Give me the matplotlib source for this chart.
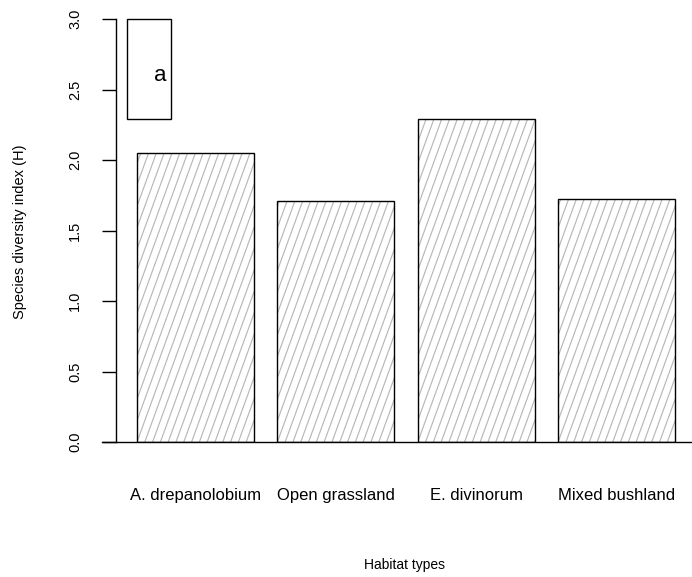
import numpy as np
import matplotlib
matplotlib.use("Agg")
import matplotlib.pyplot as plt
from matplotlib.patches import Rectangle

plt.rcParams['font.family'] = ['Liberation Sans', 'DejaVu Sans']

# data
habitats = ["A. drepanolobium", "Open grassland", "E. divinorum", "Mixed bushland"]
diversity = [2.05, 1.71, 2.29, 1.72]
yticks = [0.0, 0.5, 1.0, 1.5, 2.0, 2.5, 3.0]

W, H = 692, 577
fig = plt.figure(figsize=(W / 100, H / 100), dpi=100)

# plot region in pixels (R style layout)
left_px, right_px, top_px, bottom_px = 115.7, 692, 19, 442
ax = fig.add_axes([left_px / W, 1 - bottom_px / H,
                   (right_px - left_px) / W, (bottom_px - top_px) / H])

# barplot like R: width 1, space 0.2
width = 1.0
space = 0.2
lefts = np.array([space + i * (width + space) for i in range(len(diversity))])
centers = lefts + width / 2

ax.set_xlim(0.018, 4.944)
ax.set_ylim(0, 3.0)

bars = ax.bar(centers, diversity, width=width, color='white',
              edgecolor='black', linewidth=1.0, zorder=2)

# hatching lines (steep diagonal, grey), drawn in pixel space then mapped back
px_per_x = (right_px - left_px) / (4.944 - 0.018)
px_per_y = (bottom_px - top_px) / 3.0
angle = np.deg2rad(70)
step_px = 7.8
for b in bars:
    x0, y0 = b.get_x(), b.get_y()
    bw, bh = b.get_width(), b.get_height()
    hpx = bh * px_per_y
    shift = hpx / np.tan(angle)
    n0 = int(np.floor(-shift / step_px)) - 1
    n1 = int(np.ceil(bw * px_per_x / step_px)) + 1
    for k in range(n0, n1):
        xs_px = k * step_px
        xa = x0 + xs_px / px_per_x
        xb = x0 + (xs_px + shift) / px_per_x
        ln, = ax.plot([xa, xb], [y0, y0 + bh], color='#b8b8b8', lw=0.85, zorder=1.5)
        ln.set_clip_path(b)
    b.set_facecolor('none')
    b.set_zorder(3)

# axes styling
for s in ['top', 'right', 'bottom']:
    ax.spines[s].set_visible(False)
ax.spines['left'].set_linewidth(1.0)
ax.set_yticks(yticks)
ax.set_yticklabels([f"{v:.1f}" for v in yticks], rotation=90, va='center', fontsize=10.5)
ax.tick_params(axis='y', length=10, width=1.0, pad=14)
ax.set_xticks(centers)
ax.set_xticklabels(habitats, fontsize=12)
ax.tick_params(axis='x', length=0, pad=33)

# baseline extending past the plot region
ax.axhline(0, xmin=(102 - left_px) / (right_px - left_px), xmax=1,
           color='black', lw=1.0, clip_on=False, zorder=4)

# legend-like box with "a"
box = Rectangle((0.0196, 0.764), 0.0764, 0.236, transform=ax.transAxes,
                facecolor='white', edgecolor='black', lw=1.0, clip_on=False, zorder=5)
ax.add_patch(box)
ax.text(0.0777, 0.866, "a", transform=ax.transAxes, ha='center', va='center',
        fontsize=16, zorder=6)

# axis titles
fig.text(404 / W, 1 - 565 / H, "Habitat types", ha='center', va='center', fontsize=10)
fig.text(20 / W, 1 - 232 / H, "Species diversity index (H)", ha='center', va='center',
         rotation=90, fontsize=10.5)

fig.savefig("out.png", dpi=100)
